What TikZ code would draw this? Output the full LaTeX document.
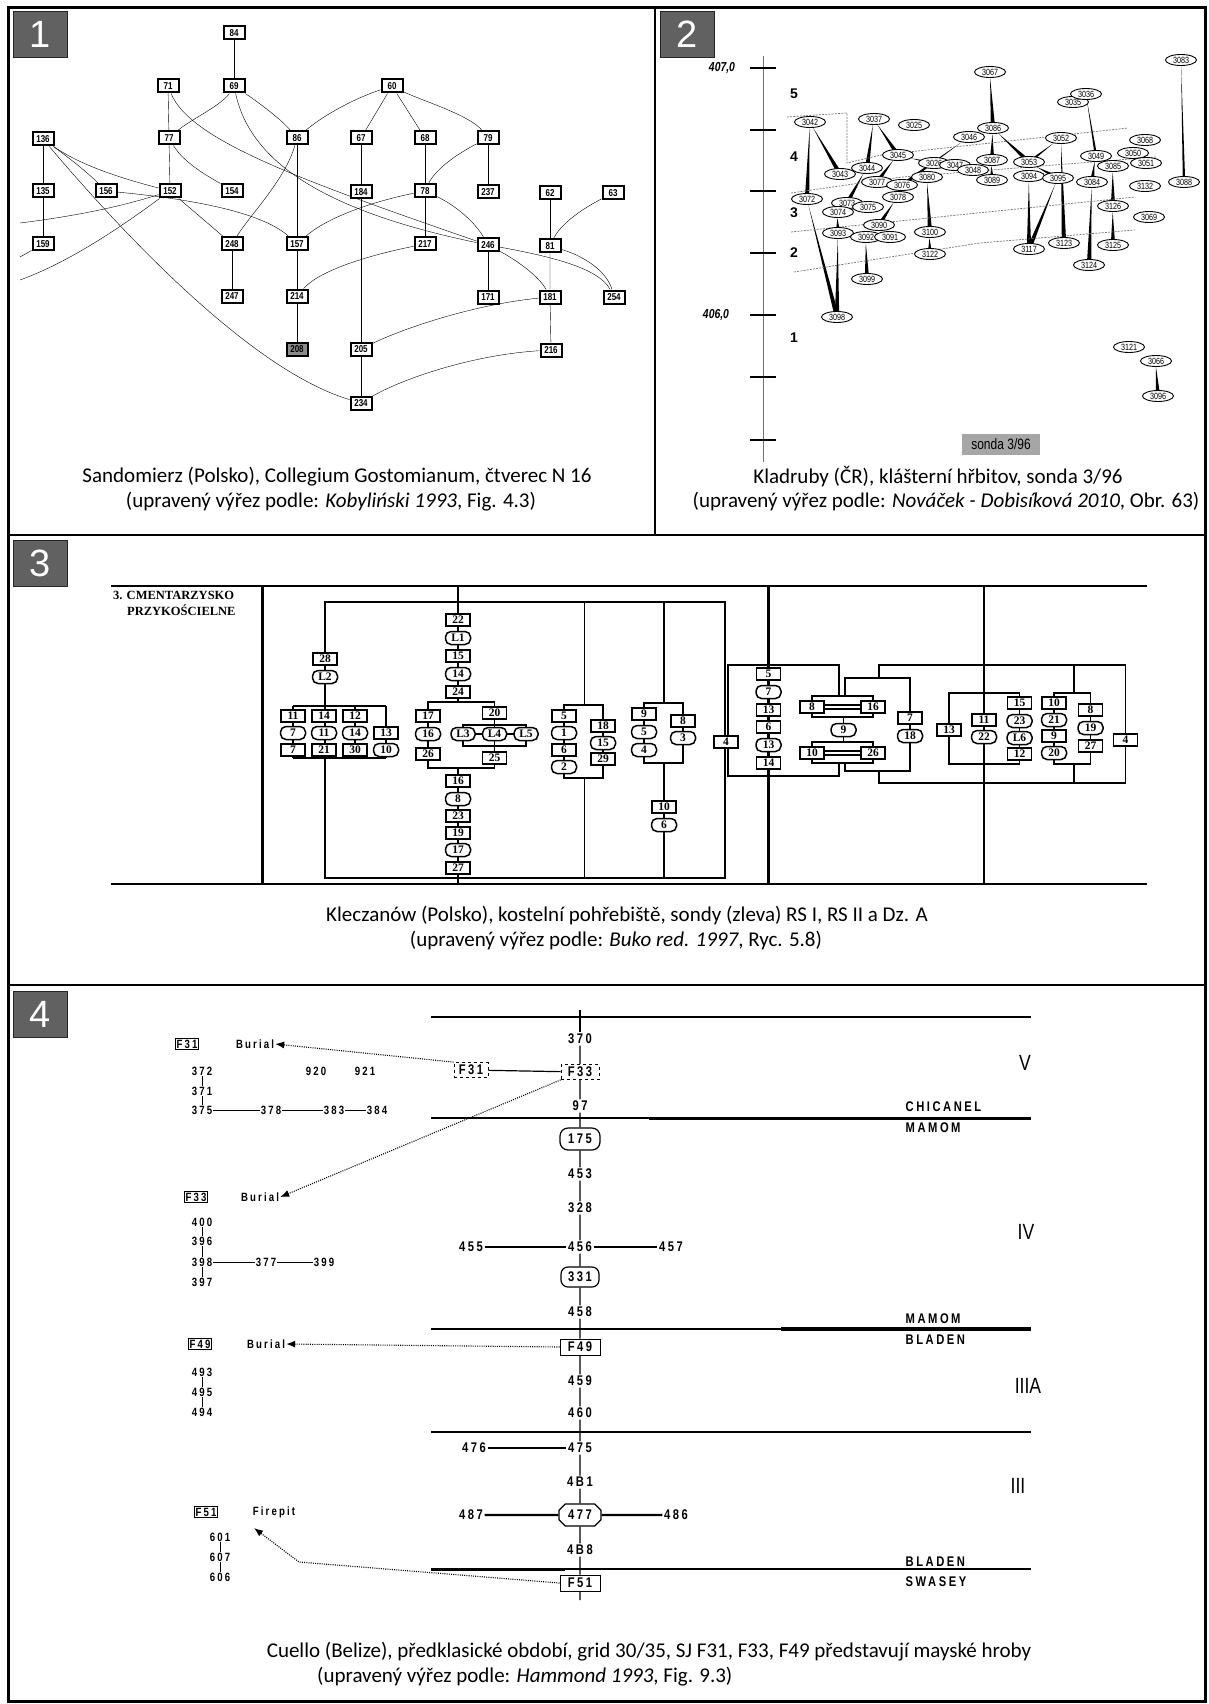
\documentclass[tikz,border=0pt]{standalone}
\usepackage{fontspec}
\setmainfont{Carlito}
\newfontfamily\arialf{Liberation Sans}
\newfontfamily\narrowf[FakeStretch=0.8]{Liberation Sans}
\newfontfamily\sprf[FakeStretch=0.8,LetterSpace=18]{Liberation Sans}
\newfontfamily\serff{Liberation Serif}
\usetikzlibrary{shapes.geometric,shapes.misc,arrows.meta,calc,backgrounds}
\newcommand\spk[3][2.2]{\fill (#2) -- ($(#3)!#1pt!90:(#2)$) -- ($(#3)!#1pt!-90:(#2)$) -- cycle;}
\begin{document}
\begin{tikzpicture}[x=1pt,y=-1pt,
  pnum/.style={fill=black!62, draw=black!85, line width=0.8pt, minimum width=54pt, minimum height=46pt, inner sep=0pt, text=white, font=\fontsize{38}{38}\selectfont\arialf},
  b1/.style={draw, line width=2pt, fill=white, minimum width=21pt, minimum height=13pt, inner sep=0pt, font=\fontsize{10}{10}\selectfont\narrowf\bfseries},
  e1/.style={line width=1.8pt},
  o2/.style={ellipse, draw, line width=0.9pt, fill=white, minimum width=31pt, minimum height=11pt, inner sep=0pt, font=\fontsize{9}{9}\selectfont\narrowf},
  dl/.style={black!55, line width=0.7pt, dash pattern=on 2pt off 1.2pt},
  r3/.style={draw, line width=1.5pt, fill=white, minimum width=24pt, minimum height=12pt, inner sep=0pt, font=\fontsize{11.5}{11.5}\selectfont\serff\bfseries},
  o3/.style={r3, rounded corners=5.5pt, minimum width=25pt, minimum height=13pt},
  thk/.style={line width=2.4pt},
  thn/.style={line width=1.2pt},
  c4/.style={inner sep=1.5pt, font=\fontsize{14}{14}\selectfont\sprf\bfseries},
  l4/.style={inner sep=1pt, font=\fontsize{12}{12}\selectfont\sprf\bfseries},
  bx4/.style={draw, line width=0.9pt, inner sep=1.5pt},
  rom/.style={font=\fontsize{22}{22}\selectfont\narrowf},
  arr/.style={line width=1.1pt, dash pattern=on 1pt off 1.2pt, -{Latex[length=9pt,width=7pt]}},
  captxt/.style={inner sep=0pt, font=\fontsize{21}{21}\selectfont}
]
\useasboundingbox (0,0) rectangle (1208,1704);
\begin{scope}[on background layer]
\fill[white] (0,0) rectangle (1208,1704);
\end{scope}

% frame
\draw[line width=3pt] (8,8) rectangle (1205,1701);
\draw[line width=2.5pt] (655,8) -- (655,535);
\draw[line width=2.5pt] (8,535) -- (1205,535);
\draw[line width=2.5pt] (8,985) -- (1205,985);

\node[pnum] (num1) at (40,34) {1};
\node[pnum] (num2) at (687,34) {2};
\node[pnum] (num3) at (40,563) {3};
\node[pnum] (num4) at (40,1014) {4};

% ================= PANEL 1 =================
\node[b1] (n84) at (234,33) {84};
\node[b1] (n71) at (168,86) {71};
\node[b1] (n69) at (234,86) {69};
\node[b1] (n60) at (392,86) {60};
\node[b1] (n136) at (43,139) {136};
\node[b1] (n77) at (169,138) {77};
\node[b1] (n86) at (297,138) {86};
\node[b1] (n67) at (361,138) {67};
\node[b1] (n68) at (425,138) {68};
\node[b1] (n79) at (488,138) {79};
\node[b1] (n135) at (43,191) {135};
\node[b1] (n156) at (106,191) {156};
\node[b1] (n152) at (170,191) {152};
\node[b1] (n154) at (232,191) {154};
\node[b1] (n184) at (361,192) {184};
\node[b1] (n78) at (425,191) {78};
\node[b1] (n237) at (488,192) {237};
\node[b1] (n62) at (550,193) {62};
\node[b1] (n63) at (613,193) {63};
\node[b1] (n159) at (43,244) {159};
\node[b1] (n248) at (232,244) {248};
\node[b1] (n157) at (297,244) {157};
\node[b1] (n217) at (425,244) {217};
\node[b1] (n246) at (488,245) {246};
\node[b1] (n81) at (550,246) {81};
\node[b1] (n247) at (232,296) {247};
\node[b1] (n214) at (297,296) {214};
\node[b1] (n171) at (488,297) {171};
\node[b1] (n181) at (550,297) {181};
\node[b1] (n254) at (614,297) {254};
\node[b1, fill=black!45] (n208) at (297,349) {208};
\node[b1] (n205) at (361,349) {205};
\node[b1] (n216) at (551,350) {216};
\node[b1] (n234) at (361,403) {234};
\coordinate (cL1) at (20,223);
\coordinate (cL2) at (20,280);
\coordinate (cL3) at (20,257);

\begin{scope}[on background layer, e1]
\draw (n84) -- (n69);
\draw (n69) .. controls (222,105) and (190,120) .. (n77);
\draw (n69) .. controls (255,100) and (280,118) .. (n86);
\draw (n69) .. controls (250,160) and (320,210) .. (n246);
\draw (n71) -- (n77);
\draw (n71) .. controls (190,140) and (300,180) .. (n246);
\draw (n60) .. controls (350,100) and (320,118) .. (n86);
\draw (n60) -- (n67);
\draw (n60) -- (n68);
\draw (n60) .. controls (420,100) and (470,115) .. (n79);
\draw (n77) -- (n152);
\draw (n77) .. controls (185,165) and (215,180) .. (n154);
\draw (n86) .. controls (285,180) and (250,215) .. (n248);
\draw (n86) -- (n157);
\draw (n67) -- (n184) -- (n205) -- (n234);
\draw (n68) -- (n78) -- (n217);
\draw (n79) .. controls (455,155) and (435,170) .. (n78);
\draw (n79) -- (n237);
\draw (n136) -- (n135) -- (n159);
\draw (n136) .. controls (80,165) and (120,178) .. (n152);
\draw (n136) .. controls (65,155) and (85,170) .. (n156);
\draw (n136) .. controls (120,230) and (250,370) .. (n234);
\draw (n156) .. controls (180,198) and (260,210) .. (n157);
\draw (n152) -- (n248);
\draw (n152) .. controls (110,210) and (60,218) .. (cL1);
\draw (n152) .. controls (130,220) and (75,260) .. (cL2);
\draw (n159) -- (cL3);
\draw (n78) .. controls (380,200) and (330,215) .. (n157);
\draw (n78) .. controls (455,205) and (475,222) .. (n246);
\draw (n217) .. controls (370,255) and (320,270) .. (n214);
\draw (n62) -- (n81);
\draw (n63) .. controls (580,210) and (560,225) .. (n81);
\draw (n81) -- (n181) -- (n216);
\draw (n81) .. controls (590,258) and (608,275) .. (n254);
\draw (n246) -- (n171);
\draw (n246) .. controls (520,262) and (540,278) .. (n181);
\draw (n246) .. controls (560,258) and (600,270) .. (n254);
\draw (n248) -- (n247);
\draw (n157) -- (n214) -- (n208);
\draw (n181) .. controls (470,305) and (400,330) .. (n205);
\draw (n216) .. controls (470,355) and (400,380) .. (n234);
\end{scope}

\node[captxt] (cap1a) at (337,477) {Sandomierz (Polsko), Collegium Gostomianum, čtverec N 16};
\node[captxt] (cap1b) at (331,502) {(upravený výřez podle: \textit{Kobyliński 1993}, Fig. 4.3)};

% ================= PANEL 2 =================
\draw[black!55, line width=0.9pt] (763,56) -- (763,462);
\foreach \yy in {68,130,191,253,315,377,440} \draw[line width=1.1pt] (750,\yy) -- (776,\yy);
\node[font=\fontsize{13}{13}\selectfont\narrowf\bfseries\itshape] (y407) at (722,68) {407,0};
\node[font=\fontsize{13}{13}\selectfont\narrowf\bfseries\itshape] (y406) at (716,315) {406,0};
\foreach \lab/\yy in {5/94,4/157,3/213,2/253,1/338}
  \node[font=\fontsize{14}{14}\selectfont\arialf\bfseries] (lay\lab) at (794,\yy) {\lab};
\draw[dl] (787,117) -- (847,113) -- (847,163) -- (881,155) -- (1128,128);
\draw[dl] (791,193) -- (902,177) -- (1156,157);
\draw[dl] (791,232) -- (1135,197);
\draw[dl] (794,272) -- (980,243) -- (1135,230);

\node[o2] (q3083) at (1181,60) {3083};
\node[o2] (q3067) at (990,72) {3067};
\node[o2] (q3035) at (1073,102) {3035};
\node[o2] (q3036) at (1086,94) {3036};
\node[o2] (q3042) at (810,122) {3042};
\node[o2] (q3037) at (874,119) {3037};
\node[o2] (q3025) at (914,125) {3025};
\node[o2] (q3046) at (969,137) {3046};
\node[o2] (q3086) at (993,128) {3086};
\node[o2] (q3052) at (1061,138) {3052};
\node[o2] (q3068) at (1145,140) {3068};
\node[o2] (q3045) at (898,155) {3045};
\node[o2] (q3049) at (1096,156) {3049};
\node[o2] (q3085) at (1113,166) {3085};
\node[o2] (q3050) at (1133,153) {3050};
\node[o2] (q3051) at (1146,163) {3051};
\node[o2] (q3087) at (992,160) {3087};
\node[o2] (q3053) at (1029,162) {3053};
\node[o2] (q3026) at (934,163) {3026};
\node[o2] (q3047) at (955,165) {3047};
\node[o2] (q3048) at (973,170) {3048};
\node[o2] (q3043) at (840,174) {3043};
\node[o2] (q3044) at (867,168) {3044};
\node[o2] (q3080) at (927,177) {3080};
\node[o2] (q3094) at (1029,176) {3094};
\node[o2] (q3095) at (1058,178) {3095};
\node[o2] (q3084) at (1092,182) {3084};
\node[o2] (q3089) at (992,180) {3089};
\node[o2] (q3077) at (877,182) {3077};
\node[o2] (q3076) at (902,185) {3076};
\node[o2] (q3132) at (1145,186) {3132};
\node[o2] (q3088) at (1184,182) {3088};
\node[o2] (q3078) at (898,197) {3078};
\node[o2] (q3072) at (807,199) {3072};
\node[o2] (q3073) at (847,203) {3073};
\node[o2] (q3075) at (868,207) {3075};
\node[o2] (q3074) at (838,212) {3074};
\node[o2] (q3126) at (1113,206) {3126};
\node[o2] (q3069) at (1149,217) {3069};
\node[o2] (q3090) at (879,225) {3090};
\node[o2] (q3093) at (838,233) {3093};
\node[o2] (q3092) at (866,237) {3092};
\node[o2] (q3091) at (890,237) {3091};
\node[o2] (q3100) at (930,232) {3100};
\node[o2] (q3117) at (1029,249) {3117};
\node[o2] (q3123) at (1064,243) {3123};
\node[o2] (q3125) at (1113,245) {3125};
\node[o2] (q3122) at (930,254) {3122};
\node[o2] (q3124) at (1089,265) {3124};
\node[o2] (q3099) at (867,279) {3099};
\node[o2] (q3098) at (837,317) {3098};
\node[o2] (q3121) at (1129,347) {3121};
\node[o2] (q3066) at (1156,361) {3066};
\node[o2] (q3096) at (1158,396) {3096};

\begin{scope}[on background layer]
\spk{q3067}{q3086}
\spk{q3086}{q3087}
\spk{q3087}{q3089}
\spk{q3086}{q3046}
\spk[1.6]{q3046}{q3076}
\spk{q3086}{q3053}
\spk[1.4]{q3052}{q3053}
\spk{q3053}{q3095}
\spk{q3052}{q3123}
\spk{q3094}{q3117}
\spk{q3095}{q3117}
\spk[1.2]{q3036}{q3049}
\spk{q3049}{q3084}
\spk{q3085}{q3126}
\spk{q3126}{q3125}
\spk{q3084}{q3124}
\spk[1.2]{q3083}{q3088}
\spk{q3042}{q3072}
\spk{q3042}{q3043}
\spk{q3037}{q3044}
\spk{q3037}{q3045}
\spk{q3045}{q3077}
\spk[1.4]{q3045}{q3026}
\spk{q3044}{q3073}
\spk{q3080}{q3100}
\spk{q3100}{q3122}
\spk{q3078}{q3090}
\spk{q3074}{q3093}
\spk{q3092}{q3099}
\spk{q3072}{q3098}
\spk{q3093}{q3098}
\spk{q3066}{q3096}
\spk[1.4]{q3026}{q3047}
\end{scope}

\node[fill=black!35, inner sep=0pt, minimum width=78pt, minimum height=21pt, font=\fontsize{15}{15}\selectfont\narrowf] (sonda) at (1001,444) {sonda 3/96};

\node[captxt] (cap2a) at (938,477) {Kladruby (ČR), klášterní hřbitov, sonda 3/96};
\node[captxt] (cap2b) at (946,502) {(upravený výřez podle: \textit{Nováček - Dobisíková 2010}, Obr. 63)};

% ================= PANEL 3 =================
\node[anchor=west, inner sep=0pt, font=\fontsize{12.5}{12.5}\selectfont\serff\bfseries] (cm1) at (113,595) {3. CMENTARZYSKO};
\node[anchor=west, inner sep=0pt, font=\fontsize{12.5}{12.5}\selectfont\serff\bfseries] (cm2) at (127,610) {PRZYKOŚCIELNE};

\node[r3] (p28) at (325,659) {28};
\node[o3] (pL2) at (325,677) {L2};
\node[r3] (a11) at (293,716) {11};
\node[o3] (a7o) at (293,733) {7};
\node[r3] (a7r) at (293,750) {7};
\node[r3] (b14) at (324,716) {14};
\node[o3] (b11) at (324,733) {11};
\node[r3] (b21) at (324,750) {21};
\node[r3] (c12) at (355,716) {12};
\node[o3] (c14) at (355,733) {14};
\node[r3] (c30) at (355,750) {30};
\node[r3] (d13) at (386,733) {13};
\node[o3] (d10) at (386,750) {10};

\node[r3] (m22) at (458,620) {22};
\node[o3] (mL1) at (458,638) {L1};
\node[r3] (m15) at (458,656) {15};
\node[o3] (m14) at (458,674) {14};
\node[r3] (m24) at (458,692) {24};
\node[r3] (m17) at (428,716) {17};
\node[o3] (m16o) at (428,734) {16};
\node[r3] (m26) at (428,754) {26};
\node[r3] (m20) at (494.5,713) {20};
\node[o3, minimum width=24pt] (mL3) at (463,734) {L3};
\node[o3, minimum width=24pt] (mL4) at (494.5,734) {L4};
\node[o3, minimum width=24pt] (mL5) at (526,734) {L5};
\node[r3] (m25) at (494.5,758) {25};
\node[r3] (m16) at (458,781) {16};
\node[o3] (m8) at (458,799) {8};
\node[r3] (m23) at (458,816) {23};
\node[r3] (m19) at (458,833) {19};
\node[o3] (m17o) at (458,850) {17};
\node[r3] (m27) at (458,868) {27};

\node[r3] (g5) at (564,716) {5};
\node[o3] (g1) at (564,733) {1};
\node[r3] (g6) at (564,750) {6};
\node[o3] (g2) at (564,767) {2};
\node[r3] (g18) at (603,726) {18};
\node[o3] (g15) at (603,743) {15};
\node[r3] (g29) at (603,759) {29};

\node[r3] (h9) at (644,714) {9};
\node[o3] (h5) at (644,732) {5};
\node[o3] (h4) at (644,750) {4};
\node[r3] (h8) at (683,721) {8};
\node[o3] (h3) at (683,738) {3};
\node[r3] (h10) at (664,807) {10};
\node[o3] (h6) at (664,825) {6};
\node[r3] (k4) at (726,742) {4};

\node[r3] (r5) at (768.5,674) {5};
\node[o3] (r7) at (768.5,692) {7};
\node[r3] (r13) at (768.5,710) {13};
\node[r3] (r6) at (768.5,727) {6};
\node[o3] (r13o) at (768.5,745) {13};
\node[r3] (r14) at (768.5,763) {14};
\node[r3] (s8) at (812,707) {8};
\node[r3] (s16) at (873,707) {16};
\node[o3] (s9) at (843.5,730) {9};
\node[r3] (s10) at (812,753) {10};
\node[r3] (s26) at (873,753) {26};
\node[r3] (s7) at (910,718) {7};
\node[o3] (s18) at (910,736) {18};
\node[r3] (t13) at (949,730) {13};
\node[r3] (t11) at (984,720) {11};
\node[o3] (t22) at (984,737) {22};
\node[r3] (t15) at (1019.5,703) {15};
\node[o3] (t23) at (1019.5,721) {23};
\node[o3] (tL6) at (1019.5,738) {L6};
\node[r3] (t12) at (1019.5,754) {12};
\node[r3] (u10) at (1054,703) {10};
\node[o3] (u21) at (1054,720) {21};
\node[r3] (u9) at (1054,736) {9};
\node[o3] (u20) at (1054,753) {20};
\node[r3] (u8) at (1090.5,710) {8};
\node[o3] (u19) at (1090.5,728) {19};
\node[r3] (u27) at (1090.5,746) {27};
\node[r3] (k4b) at (1125.5,740) {4};

\begin{scope}[on background layer]
\draw[thk] (111,586) -- (1147,586);
\draw[thk] (111,884) -- (1147,884);
\draw[line width=3pt] (262,586) -- (262,884);
\draw[thk] (458,586) -- (458,702);
\draw[thk] (458,768) -- (458,884);
\draw[thk] (768.5,586) -- (768.5,884);
\draw[thk] (984,586) -- (984,665);
\draw[thk] (984,783) -- (984,884);
\begin{scope}[thn]
\draw (325,602) -- (725,602) -- (725,878) -- (325,878) -- cycle;
\draw (293,706) -- (386,706);
\draw (293,706) -- (293,758);
\draw (355,706) -- (355,758);
\draw (386,706) -- (386,758);
\draw (293,758) -- (386,758);
\draw (428,702) rectangle (494.5,768);
\draw (463,725) rectangle (526,746);
\draw (463,734) -- (526,734);
\draw (584.5,602) -- (584.5,705);
\draw (564,705) rectangle (603,778);
\draw (584.5,778) -- (584.5,878);
\draw (664,602) -- (664,703);
\draw (644,703) rectangle (683,763);
\draw (664,763) -- (664,878);
\draw (839,696) -- (839,665) -- (728,665) -- (728,776) -- (839,776) -- (839,763);
\draw (812,696) rectangle (873,717);
\draw (812,705) -- (873,705);
\draw (812,709) -- (873,709);
\draw (843.5,717) -- (843.5,742);
\draw (812,742) rectangle (873,763);
\draw (812,751) -- (873,751);
\draw (812,755) -- (873,755);
\draw (845,696) -- (845,678) -- (910,678) -- (910,771) -- (845,771) -- (845,763);
\draw (879,678) -- (879,665) -- (1125.5,665) -- (1125.5,783) -- (879,783) -- (879,771);
\draw (949,693) rectangle (1019.5,764);
\draw (984,665) -- (984,783);
\draw (1054,693) rectangle (1090.5,764);
\draw (1074,665) -- (1074,693);
\draw (1074,764) -- (1074,783);
\end{scope}
\end{scope}

\node[captxt] (cap3a) at (627,916) {Kleczanów (Polsko), kostelní pohřebiště, sondy (zleva) RS I, RS II a Dz. A};
\node[captxt] (cap3b) at (616,941) {(upravený výřez podle: \textit{Buko red. 1997}, Ryc. 5.8)};

% ================= PANEL 4 =================
\draw[line width=1.6pt] (431,1017) -- (1031,1017);
\draw[line width=1.6pt] (431,1118) -- (1031,1118);
\draw[line width=3pt] (649,1118) -- (1031,1118);
\draw[line width=1.8pt] (431,1329) -- (1031,1329);
\draw[line width=3.2pt] (781,1329) -- (1031,1329);
\draw[line width=1.6pt] (431,1432) -- (1031,1432);
\draw[line width=2.6pt] (431,1432) -- (580,1432);
\draw[line width=1.6pt] (431,1569) -- (1031,1569);
\draw[line width=3pt] (431,1569) -- (565,1569);

\coordinate (ctick) at (580,1010);
\node[c4] (c370) at (580,1039) {370};
\node[c4, draw, dashed, line width=0.8pt, minimum width=38pt, minimum height=15pt, fill=white] (cF33) at (580,1072) {F33};
\node[c4, draw, dashed, line width=0.8pt, minimum width=34pt, minimum height=15pt] (cF31) at (471,1070) {F31};
\node[c4] (c97) at (580,1106) {97};
\node[c4, draw, line width=1.2pt, rounded corners=8pt, minimum width=40pt, minimum height=22pt, fill=white] (c175) at (580,1139) {175};
\node[c4] (c453) at (580,1174) {453};
\node[c4] (c328) at (580,1208) {328};
\node[c4] (c456) at (580,1247) {456};
\node[c4] (c455) at (471,1247) {455};
\node[c4] (c457) at (671,1247) {457};
\node[c4, draw, line width=1.2pt, rounded corners=7pt, minimum width=38pt, minimum height=20pt, fill=white] (c331) at (580,1277) {331};
\node[c4] (c458) at (580,1312) {458};
\node[c4, draw, line width=1pt, minimum width=40pt, minimum height=16pt, fill=white] (cF49) at (580,1347) {F49};
\node[c4] (c459) at (580,1381) {459};
\node[c4] (c460) at (580,1413) {460};
\node[c4] (c475) at (580,1448) {475};
\node[c4] (c476) at (474,1448) {476};
\node[c4] (c481) at (580,1482) {4B1};
\node[c4, chamfered rectangle, chamfered rectangle xsep=3pt, draw, line width=1.2pt, minimum width=42pt, minimum height=22pt, fill=white] (c477) at (580,1515) {477};
\node[c4] (c487) at (471,1515) {487};
\node[c4] (c486) at (676,1515) {486};
\node[c4] (c488) at (580,1550) {4B8};
\node[c4, draw, line width=1pt, minimum width=40pt, minimum height=16pt, fill=white] (cF51) at (580,1583) {F51};
\coordinate (cend) at (580,1600);

\begin{scope}[line width=1.2pt]
\draw (ctick) -- (c370);
\draw (c370) -- (cF33) -- (c97) -- (c175) -- (c453) -- (c328) -- (c456) -- (c331) -- (c458) -- (cF49) -- (c459) -- (c460) -- (c475) -- (c481) -- (c477) -- (c488) -- (cF51) -- (cend);
\draw (cF31) -- (cF33);
\draw[line width=1.6pt] (c455) -- (c456);
\draw[line width=1.6pt] (c456) -- (c457);
\draw[line width=1.6pt] (c476) -- (c475);
\draw[line width=2.2pt] (c487) -- (c477);
\draw[line width=2.2pt] (c477) -- (c486);
\end{scope}

\node[rom] (rV) at (1025,1063) {V};
\node[rom] (rIV) at (1026,1232) {IV};
\node[rom] (rIIIA) at (1028,1386) {IIIA};
\node[rom] (rIII) at (1018,1486) {III};
\node[c4, anchor=west] (pChic) at (904,1107) {CHICANEL};
\node[c4, anchor=west] (pMam1) at (904,1128) {MAMOM};
\node[c4, anchor=west] (pMam2) at (904,1319) {MAMOM};
\node[c4, anchor=west] (pBla1) at (904,1340) {BLADEN};
\node[c4, anchor=west] (pBla2) at (904,1562) {BLADEN};
\node[c4, anchor=west] (pSwa) at (904,1582) {SWASEY};

% left side
\node[l4, bx4] (lF31) at (187,1044) {F31};
\node[l4] (bur1) at (255,1044) {Burial};
\node[l4] (v372) at (202,1071) {372};
\node[l4] (v920) at (316,1071) {920};
\node[l4] (v921) at (365,1071) {921};
\node[l4] (v371) at (202,1091) {371};
\node[l4] (v375) at (202,1110) {375};
\node[l4] (v378) at (271,1110) {378};
\node[l4] (v383) at (334,1110) {383};
\node[l4] (v384) at (377,1110) {384};
\node[l4, bx4] (lF33) at (196,1197) {F33};
\node[l4] (bur2) at (260,1197) {Burial};
\node[l4] (v400) at (202,1222) {400};
\node[l4] (v396) at (202,1241) {396};
\node[l4] (v398) at (202,1262) {398};
\node[l4] (v377) at (266,1262) {377};
\node[l4] (v399) at (324,1262) {399};
\node[l4] (v397) at (202,1282) {397};
\node[l4, bx4] (lF49) at (200,1344) {F49};
\node[l4] (bur3) at (266,1344) {Burial};
\node[l4] (v493) at (202,1372) {493};
\node[l4] (v495) at (202,1392) {495};
\node[l4] (v494) at (202,1412) {494};
\node[l4, bx4] (lF51) at (206,1512) {F51};
\node[l4] (fire) at (274,1512) {Firepit};
\node[l4] (v601) at (220,1537) {601};
\node[l4] (v607) at (220,1557) {607};
\node[l4] (v606) at (220,1577) {606};

\begin{scope}[line width=0.8pt]
\draw (v372) -- (v371) -- (v375);
\draw (v375) -- (v378) -- (v383) -- (v384);
\draw (v400) -- (v396) -- (v398) -- (v397);
\draw (v398) -- (v377) -- (v399);
\draw (v493) -- (v495) -- (v494);
\draw (v601) -- (v607) -- (v606);
\end{scope}

\coordinate (f51bend) at (299,1562);
\coordinate (f51tip) at (254,1528);
\draw[arr] (cF31.north west) -- (bur1.east);
\draw[arr] (cF33.south west) -- (bur2.east);
\draw[arr] (cF49.west) -- (bur3.east);
\draw[arr] (cF51.west) -- (f51bend) -- (f51tip);

\node[captxt] (cap4a) at (649,1652) {Cuello (Belize), předklasické období, grid 30/35, SJ F31, F33, F49 představují mayské hroby};
\node[captxt, anchor=west] (cap4b) at (317,1677) {(upravený výřez podle: \textit{Hammond 1993}, Fig. 9.3)};
\end{tikzpicture}
\end{document}
